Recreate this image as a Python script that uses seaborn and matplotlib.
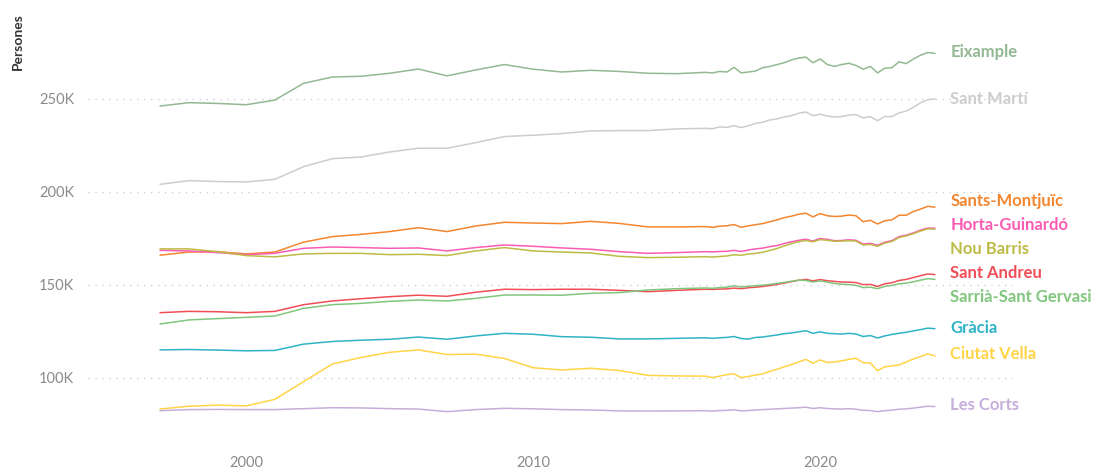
import numpy as np
import pandas as pd
import matplotlib
matplotlib.use("Agg")
import matplotlib.pyplot as plt
import seaborn as sns

# years: annual points up to 2015, then quarterly from 2016
years_annual = list(range(1997, 2016))
years_quarter = list(np.arange(2016.0, 2024.01, 0.25))

districts = ["Eixample", "Sant Martí", "Sants-Montjuïc", "Horta-Guinardó", "Nou Barris",
             "Sant Andreu", "Sarrià-Sant Gervasi", "Gràcia", "Ciutat Vella", "Les Corts"]

# population in thousands, 1997..2015
annual = {
    "Eixample": [246.2, 248.0, 247.6, 246.9, 249.4, 258.4, 261.8, 262.2, 263.8, 266.1,
                 262.4, 265.6, 268.5, 266.0, 264.5, 265.4, 264.8, 263.8, 263.6],
    "Sant Martí": [204.1, 206.1, 205.6, 205.4, 206.8, 213.6, 217.9, 218.8, 221.5, 223.5,
                   223.5, 226.5, 229.8, 230.5, 231.4, 232.8, 233.0, 233.0, 233.9],
    "Sants-Montjuïc": [166.0, 167.7, 167.9, 166.7, 167.7, 173.0, 176.0, 177.2, 178.7, 180.8,
                       178.7, 181.7, 183.7, 183.3, 183.0, 184.2, 183.1, 181.2, 181.2],
    "Horta-Guinardó": [168.6, 168.3, 167.4, 166.3, 167.0, 169.7, 170.4, 170.1, 169.7, 169.9,
                       168.3, 170.1, 171.5, 170.8, 169.9, 169.2, 167.9, 167.0, 167.4],
    "Nou Barris": [169.4, 169.4, 167.9, 165.8, 165.1, 166.7, 167.0, 167.0, 166.3, 166.5,
                   165.8, 168.3, 170.1, 168.3, 167.7, 167.2, 165.4, 164.7, 164.9],
    "Sant Andreu": [135.1, 135.8, 135.6, 135.1, 135.8, 139.4, 141.4, 142.6, 143.7, 144.5,
                    143.9, 146.1, 147.7, 147.5, 147.7, 147.7, 147.1, 146.4, 147.1],
    "Sarrià-Sant Gervasi": [129.0, 131.2, 131.9, 132.6, 133.3, 137.4, 139.4, 140.1, 141.2, 141.9,
                            141.4, 142.8, 144.6, 144.6, 144.5, 145.5, 145.9, 147.3, 148.0],
    "Gràcia": [115.1, 115.3, 115.0, 114.6, 114.8, 118.2, 119.6, 120.3, 120.8, 122.0,
               120.8, 122.6, 124.0, 123.5, 122.2, 121.9, 121.0, 121.0, 121.3],
    "Ciutat Vella": [83.3, 84.8, 85.4, 85.0, 88.5, 98.0, 107.5, 111.0, 113.8, 115.1,
                     112.6, 112.8, 110.5, 105.5, 104.3, 105.2, 104.0, 101.4, 101.1],
    "Les Corts": [82.4, 83.0, 83.1, 83.0, 83.0, 83.5, 84.0, 83.9, 83.5, 83.3,
                  81.9, 83.0, 83.7, 83.4, 83.0, 82.8, 82.3, 82.2, 82.3],
}

# population in thousands, quarterly 2016.0..2024.0
quarterly = {
    "Eixample": [264.3, 264.0, 264.8, 264.5, 267.0, 264.0, 264.5, 265.0, 266.8, 267.5, 268.5,
                 269.5, 271.0, 272.0, 272.5, 269.5, 271.5, 268.5, 267.5, 268.5, 269.2, 268.0,
                 266.0, 267.5, 264.0, 266.5, 266.8, 270.0, 269.0, 271.5, 273.5, 275.0, 274.5],
    "Sant Martí": [234.2, 234.0, 235.0, 234.7, 235.6, 234.6, 235.6, 236.8, 237.5, 238.7, 239.3,
                   240.3, 241.0, 242.3, 243.0, 241.0, 241.8, 240.8, 240.3, 240.5, 241.3, 241.6,
                   239.8, 240.5, 238.3, 240.6, 240.5, 242.5, 243.5, 245.5, 248.0, 249.6, 250.0],
    "Sants-Montjuïc": [181.4, 181.0, 181.6, 181.8, 182.5, 181.0, 181.8, 182.4, 183.0, 184.0, 185.0,
                       186.2, 187.0, 188.0, 188.6, 186.6, 188.4, 187.2, 186.8, 187.0, 187.6, 187.2,
                       184.0, 184.8, 182.8, 184.5, 185.0, 187.5, 187.5, 189.5, 190.8, 192.3, 191.8],
    "Horta-Guinardó": [167.9, 167.8, 168.0, 168.1, 168.6, 168.0, 168.8, 169.4, 169.8, 170.6, 171.2,
                       172.3, 173.2, 174.0, 174.6, 173.6, 175.0, 174.5, 173.8, 173.9, 174.3, 174.0,
                       172.0, 172.4, 171.3, 173.0, 173.8, 176.0, 176.8, 178.0, 179.5, 180.6, 180.5],
    "Nou Barris": [165.2, 165.0, 165.3, 165.6, 166.2, 166.0, 166.6, 167.0, 167.6, 168.6, 169.6,
                   171.0, 172.2, 173.3, 173.9, 173.2, 174.4, 174.0, 173.5, 173.6, 173.8, 173.6,
                   171.5, 171.8, 170.8, 172.5, 173.4, 175.5, 176.4, 177.6, 179.0, 180.2, 180.0],
    "Sant Andreu": [147.7, 147.6, 147.8, 147.9, 148.3, 148.0, 148.5, 148.8, 149.2, 149.7, 150.3,
                    151.0, 151.8, 152.5, 153.0, 152.2, 152.9, 152.3, 151.9, 151.6, 151.5, 151.3,
                    150.2, 150.3, 149.2, 150.6, 151.2, 152.4, 153.0, 154.0, 155.0, 155.9, 155.6],
    "Sarrià-Sant Gervasi": [148.4, 148.2, 148.6, 148.8, 149.6, 148.9, 149.3, 149.6, 149.9, 150.3, 150.8,
                            151.4, 152.0, 152.6, 152.4, 151.6, 152.2, 151.5, 150.8, 150.4, 150.2, 149.8,
                            148.6, 148.8, 148.0, 149.2, 149.8, 150.6, 151.0, 151.7, 152.6, 153.4, 153.0],
    "Gràcia": [121.6, 121.3, 121.6, 121.8, 122.3, 121.2, 120.9, 121.8, 122.0, 122.6, 123.1,
               123.8, 124.2, 124.8, 125.4, 124.0, 124.8, 124.0, 123.8, 123.6, 124.0, 123.6,
               122.3, 122.8, 121.5, 122.6, 123.4, 124.0, 124.6, 125.3, 126.0, 126.8, 126.5],
    "Ciutat Vella": [101.0, 100.2, 101.0, 101.8, 102.2, 100.2, 100.8, 101.6, 102.2, 103.6, 104.7,
                     106.0, 107.2, 108.6, 110.0, 107.9, 109.7, 108.3, 108.6, 109.2, 110.0, 110.6,
                     108.2, 108.0, 103.9, 106.0, 106.5, 107.0, 108.6, 110.2, 111.5, 112.9, 111.8],
    "Les Corts": [82.4, 82.2, 82.5, 82.6, 82.9, 82.3, 82.5, 82.8, 83.0, 83.2, 83.4,
                  83.6, 83.8, 84.0, 84.3, 83.6, 84.0, 83.6, 83.4, 83.3, 83.5, 83.2,
                  82.6, 82.5, 81.9, 82.4, 82.7, 83.2, 83.4, 83.8, 84.3, 84.8, 84.6],
}

colors = {
    "Eixample": "#93b892",
    "Sant Martí": "#cdcdcd",
    "Sants-Montjuïc": "#f4862f",
    "Horta-Guinardó": "#fb5cb3",
    "Nou Barris": "#bdbb45",
    "Sant Andreu": "#f04d57",
    "Sarrià-Sant Gervasi": "#80c67d",
    "Gràcia": "#2fb3c6",
    "Ciutat Vella": "#ffd447",
    "Les Corts": "#c6aedb",
}

# label placement (thousands), dodged so they don't overlap
label_y = [275.4, 250.0, 195.0, 182.1, 169.3, 156.4, 143.3, 126.8, 112.8, 85.5]

rows = []
for d in districts:
    for y, v in zip(years_annual + years_quarter, annual[d] + quarterly[d]):
        rows.append({"year": y, "district": d, "pop": v * 1000})
df = pd.DataFrame(rows)

sns.set_style("white")
plt.rcParams["font.family"] = ["Lato", "DejaVu Sans"]

fig = plt.figure(figsize=(10.97, 4.73), dpi=100)
ax = fig.add_axes([88 / 1097, 21 / 473, 925 / 1097, 452 / 473])

sns.lineplot(data=df, x="year", y="pop", hue="district", palette=colors,
             estimator=None, legend=False, linewidth=1.1, ax=ax)

ax.set_xlim(1994.49, 2026.72)
ax.set_ylim(60200, 303200)
ax.set_yticks([100000, 150000, 200000, 250000])
ax.set_yticklabels(["100K", "150K", "200K", "250K"])
ax.set_xticks([2000, 2010, 2020])
ax.set_xticklabels(["2000", "2010", "2020"])
ax.tick_params(axis="y", length=0, pad=10, labelsize=10.5, labelcolor="#8a8a8a")
ax.tick_params(axis="x", length=0, pad=3, labelsize=10.5, labelcolor="#8a8a8a")
ax.yaxis.grid(True, linestyle=(0, (1, 4)), color="#cfcfcf", linewidth=1)
ax.xaxis.grid(False)
sns.despine(ax=ax, left=True, bottom=True)
ax.set_xlabel("")
ax.set_ylabel("")

for d, ly in zip(districts, label_y):
    ax.text(2024.53, ly * 1000, d, color=colors[d], fontsize=12, fontweight="bold",
            va="center", ha="left", clip_on=False)

fig.text(18 / 1097, 1 - 42 / 473, "Persones", rotation=90, fontsize=10,
         fontweight="bold", color="#333333", va="center", ha="center")

fig.savefig("out.png", dpi=100)
